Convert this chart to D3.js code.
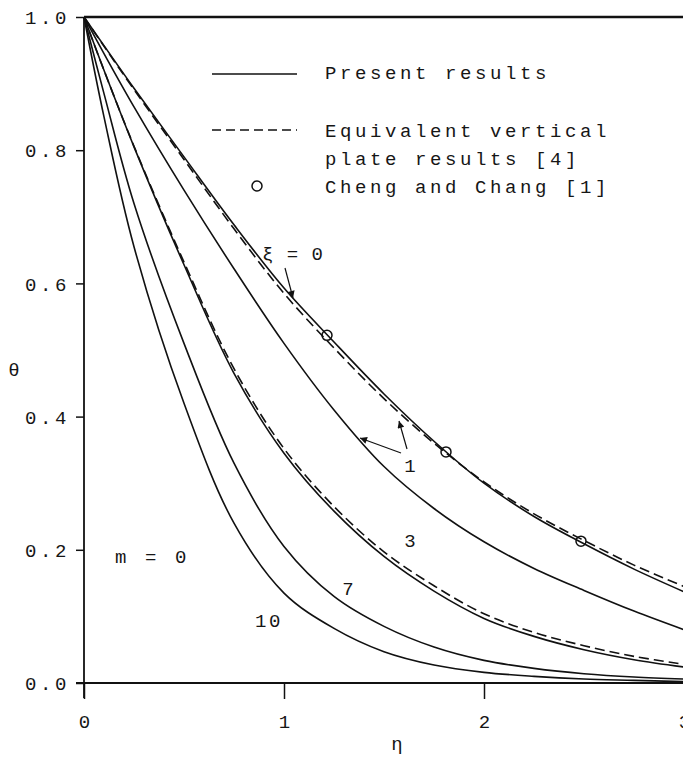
<!DOCTYPE html>
<html>
<head>
<meta charset="utf-8">
<script src="https://cdn.jsdelivr.net/npm/d3@7"></script>
<style>
  body { margin: 0; background: #fff; }
  text { font-family: "Liberation Mono", monospace; fill: #161616; }
</style>
</head>
<body>
<div class="canvas"></div>
<script>
// eta grid and temperature profiles
const eta = [0, 0.1, 0.25, 0.5, 0.75, 1, 1.25, 1.5, 1.75, 2, 2.25, 2.5, 2.75, 3];
const thetaXi0 = [1, 0.957, 0.893, 0.79, 0.688, 0.593, 0.512, 0.434, 0.363, 0.3, 0.25, 0.209, 0.171, 0.137];
const thetaXi0Plate = [1, 0.956, 0.891, 0.786, 0.682, 0.585, 0.503, 0.427, 0.36, 0.302, 0.254, 0.214, 0.177, 0.145];
const thetaXi1 = [1, 0.945, 0.865, 0.74, 0.622, 0.51, 0.41, 0.325, 0.262, 0.212, 0.172, 0.139, 0.108, 0.08];
const thetaXi3 = [1, 0.92, 0.805, 0.628, 0.465, 0.345, 0.258, 0.19, 0.138, 0.097, 0.07, 0.05, 0.035, 0.024];
const thetaXi3Plate = [1, 0.92, 0.806, 0.632, 0.472, 0.352, 0.265, 0.197, 0.146, 0.104, 0.076, 0.056, 0.04, 0.028];
const thetaXi7 = [1, 0.885, 0.72, 0.51, 0.33, 0.205, 0.13, 0.085, 0.054, 0.034, 0.022, 0.014, 0.009, 0.006];
const thetaXi10 = [1, 0.85, 0.655, 0.42, 0.24, 0.135, 0.082, 0.047, 0.027, 0.016, 0.01, 0.006, 0.004, 0.002];

// Cheng and Chang points
const chengEta = [1.215, 1.81, 2.485];
const chengTheta = [0.522, 0.347, 0.213];

const xTicks = [0, 1, 2, 3];
const yTicks = [0, 0.2, 0.4, 0.6, 0.8, 1.0];

const legendLabels = ["Present results", "Equivalent vertical", "plate results [4]", "Cheng and Chang [1]"];

const dims = { width: 683, height: 760 };
const plot = { left: 84, right: 684, top: 17, bottom: 683 };

const svg = d3
  .select(".canvas")
  .append("svg")
  .attr("width", dims.width)
  .attr("height", dims.height);

const x = d3.scaleLinear().domain([0, 3]).range([plot.left, plot.right]);
const y = d3.scaleLinear().domain([0, 1]).range([plot.bottom, plot.top]);

const line = d3
  .line()
  .x((d) => x(d[0]))
  .y((d) => y(d[1]))
  .curve(d3.curveCatmullRom.alpha(0.5));

const curves = [
  { vals: thetaXi0, dash: null },
  { vals: thetaXi0Plate, dash: "10,5" },
  { vals: thetaXi1, dash: null },
  { vals: thetaXi3, dash: null },
  { vals: thetaXi3Plate, dash: "10,5" },
  { vals: thetaXi7, dash: null },
  { vals: thetaXi10, dash: null },
];

svg
  .selectAll("path.curve")
  .data(curves)
  .enter()
  .append("path")
  .attr("class", "curve")
  .attr("d", (c) => line(eta.map((e, i) => [e, c.vals[i]])))
  .attr("fill", "none")
  .attr("stroke", "#111")
  .attr("stroke-width", 1.6)
  .attr("stroke-dasharray", (c) => c.dash);

// circles
svg
  .selectAll("circle.cheng")
  .data(chengEta)
  .enter()
  .append("circle")
  .attr("class", "cheng")
  .attr("cx", (d) => x(d))
  .attr("cy", (d, i) => y(chengTheta[i]))
  .attr("r", 5)
  .attr("fill", "none")
  .attr("stroke", "#111")
  .attr("stroke-width", 1.5);

// axes
const yAxis = d3
  .axisLeft(y)
  .tickValues(yTicks)
  .tickSize(8)
  .tickSizeOuter(0)
  .tickFormat(d3.format(".1f"));

const yg = svg
  .append("g")
  .attr("transform", `translate(${plot.left},0)`)
  .call(yAxis);
yg.select(".domain").remove();
yg.selectAll(".tick line").attr("stroke", "#111").attr("stroke-width", 1.5);
yg.selectAll(".tick text")
  .attr("x", 25 - plot.left)
  .attr("dy", "0.35em")
  .attr("text-anchor", "start")
  .style("font-size", "19px")
  .style("letter-spacing", "3.6px");

const xAxis = d3
  .axisBottom(x)
  .tickValues(xTicks)
  .tickSize(16)
  .tickSizeOuter(0)
  .tickFormat(d3.format("d"));
const xg = svg
  .append("g")
  .attr("transform", `translate(0,${plot.bottom})`)
  .call(xAxis);
xg.select(".domain").remove();
xg.selectAll(".tick line").attr("stroke", "#111").attr("stroke-width", 1.5);
xg.selectAll(".tick text")
  .attr("y", 38)
  .attr("dy", "0.35em")
  .style("font-size", "19px");

// axis lines and top frame
svg.append("line")
  .attr("x1", plot.left).attr("x2", plot.left)
  .attr("y1", plot.top).attr("y2", plot.bottom + 15)
  .attr("stroke", "#111").attr("stroke-width", 1.8);
svg.append("line")
  .attr("x1", plot.left - 8).attr("x2", dims.width)
  .attr("y1", plot.bottom).attr("y2", plot.bottom)
  .attr("stroke", "#111").attr("stroke-width", 2.2);
svg.append("line")
  .attr("x1", plot.left).attr("x2", dims.width)
  .attr("y1", plot.top).attr("y2", plot.top)
  .attr("stroke", "#111").attr("stroke-width", 2.4);

// axis titles
svg.append("text").attr("x", 14).attr("y", 376)
  .attr("text-anchor", "middle").style("font-size", "19px").text("θ");
svg.append("text").attr("x", 397).attr("y", 750)
  .attr("text-anchor", "middle").style("font-size", "19px").text("η");

// legend
const legend = svg.append("g");
legend.append("line")
  .attr("x1", 212).attr("x2", 297).attr("y1", 74).attr("y2", 74)
  .attr("stroke", "#111").attr("stroke-width", 1.6);
legend.append("line")
  .attr("x1", 212).attr("x2", 297).attr("y1", 130).attr("y2", 130)
  .attr("stroke", "#111").attr("stroke-width", 1.6)
  .attr("stroke-dasharray", "9,5");
legend.append("circle")
  .attr("cx", 257).attr("cy", 186).attr("r", 5)
  .attr("fill", "none").attr("stroke", "#111").attr("stroke-width", 1.5);
const legendY = [79, 137, 165, 193];
legend
  .selectAll("text")
  .data(legendLabels)
  .enter()
  .append("text")
  .attr("x", 325)
  .attr("y", (d, i) => legendY[i])
  .style("font-size", "19px")
  .style("letter-spacing", "3.6px")
  .text((d) => d);

// curve labels
const labelStyle = (sel) => sel.style("font-size", "19px");
svg.append("text").attr("x", 262).attr("y", 260).call(labelStyle)
  .style("letter-spacing", "1px").text("ξ = 0");
svg.append("text").attr("x", 115).attr("y", 563).call(labelStyle)
  .style("letter-spacing", "3.6px").text("m = 0");
svg.append("text").attr("x", 410).attr("y", 472).attr("text-anchor", "middle").call(labelStyle).text("1");
svg.append("text").attr("x", 410).attr("y", 547).attr("text-anchor", "middle").call(labelStyle).text("3");
svg.append("text").attr("x", 348).attr("y", 595).attr("text-anchor", "middle").call(labelStyle).text("7");
svg.append("text").attr("x", 255).attr("y", 627).call(labelStyle)
  .style("letter-spacing", "2.5px").text("10");

// arrows
const defs = svg.append("defs");
defs.append("marker")
  .attr("id", "head")
  .attr("viewBox", "0 0 10 10")
  .attr("refX", 10).attr("refY", 5)
  .attr("markerWidth", 10).attr("markerHeight", 7)
  .attr("markerUnits", "userSpaceOnUse")
  .attr("orient", "auto")
  .append("path")
  .attr("d", "M0,0 L10,5 L0,10 z")
  .attr("fill", "#111");

const arrows = [
  [285, 268, 293, 298],
  [401, 453, 360, 438],
  [407, 449, 399, 421],
];
svg.selectAll("line.arrow")
  .data(arrows)
  .enter()
  .append("line")
  .attr("class", "arrow")
  .attr("x1", (d) => d[0]).attr("y1", (d) => d[1])
  .attr("x2", (d) => d[2]).attr("y2", (d) => d[3])
  .attr("stroke", "#111").attr("stroke-width", 1.2)
  .attr("marker-end", "url(#head)");
</script>
</body>
</html>
